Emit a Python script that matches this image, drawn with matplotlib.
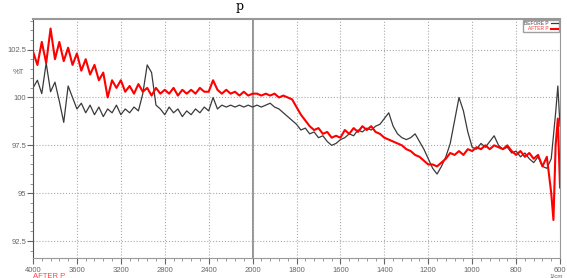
import numpy as np
import matplotlib
matplotlib.use('Agg')
import matplotlib.pyplot as plt
from matplotlib.ticker import FixedLocator, FuncFormatter

# wavenumber grid (1/cm), read points
wavenumber = [4000, 3960, 3920, 3880, 3840, 3800, 3760, 3720, 3680, 3640,
              3600, 3560, 3520, 3480, 3440, 3400, 3360, 3320, 3280, 3240,
              3200, 3160, 3120, 3080, 3040, 3000, 2960, 2920, 2880, 2840,
              2800, 2760, 2720, 2680, 2640, 2600, 2560, 2520, 2480, 2440,
              2400, 2360, 2320, 2280, 2240, 2200, 2160, 2120, 2080, 2040,
              2000, 1980, 1960, 1940, 1920, 1900, 1880, 1860, 1840, 1820,
              1800, 1780, 1760, 1740, 1720, 1700, 1680, 1660, 1640, 1620,
              1600, 1580, 1560, 1540, 1520, 1500, 1480, 1460, 1440, 1420,
              1400, 1380, 1360, 1340, 1320, 1300, 1280, 1260, 1240, 1220,
              1200, 1180, 1160, 1140, 1120, 1100, 1080, 1060, 1040, 1020,
              1000, 980, 960, 940, 920, 900, 880, 860, 840, 820,
              800, 780, 760, 740, 720, 700, 680, 660, 640, 630,
              620, 610, 600]

before_p = [100.5, 100.9, 100.2, 101.8, 100.3, 100.8, 99.8, 98.7, 100.6, 100.0,
            99.4, 99.7, 99.2, 99.6, 99.1, 99.5, 99.0, 99.4, 99.2, 99.6,
            99.1, 99.4, 99.2, 99.5, 99.3, 100.2, 101.7, 101.3, 99.6, 99.4,
            99.1, 99.5, 99.2, 99.4, 99.0, 99.3, 99.1, 99.4, 99.2, 99.5,
            99.3, 100.0, 99.4, 99.6, 99.5, 99.6, 99.5, 99.6, 99.5, 99.6,
            99.5, 99.6, 99.5, 99.6, 99.7, 99.5, 99.4, 99.2, 99.0, 98.8,
            98.6, 98.3, 98.4, 98.1, 98.2, 97.9, 98.0, 97.7, 97.5, 97.6,
            97.8, 97.9, 98.1, 98.0, 98.3, 98.2, 98.4, 98.3, 98.5, 98.6,
            98.9, 99.2, 98.5, 98.1, 97.9, 97.8, 97.9, 98.1, 97.7, 97.3,
            96.8, 96.3, 96.0, 96.4, 96.9, 97.6, 98.8, 100.0, 99.3, 98.2,
            97.4, 97.3, 97.6, 97.4, 97.7, 98.0, 97.5, 97.3, 97.4, 97.1,
            97.2, 96.9, 97.1, 96.8, 96.6, 96.9, 96.4, 96.3, 96.8, 98.0,
            99.2, 100.6, 98.5]

after_p = [102.4, 101.7, 102.9, 101.8, 103.6, 102.0, 102.9, 101.9, 102.6, 101.7,
           102.3, 101.4, 102.0, 101.2, 101.7, 100.9, 101.3, 100.0, 100.9, 100.5,
           100.9, 100.3, 100.6, 100.2, 100.7, 100.3, 100.5, 100.1, 100.5, 100.2,
           100.4, 100.2, 100.5, 100.1, 100.4, 100.2, 100.4, 100.2, 100.5, 100.3,
           100.3, 100.9, 100.4, 100.2, 100.4, 100.2, 100.3, 100.1, 100.3, 100.1,
           100.2, 100.2, 100.1, 100.2, 100.1, 100.2, 100.0, 100.1, 100.0, 99.9,
           99.5, 99.1, 98.8, 98.5, 98.3, 98.4, 98.1, 98.2, 97.9, 98.0,
           97.9, 98.3, 98.1, 98.4, 98.2, 98.5, 98.3, 98.5, 98.2, 98.1,
           97.9, 97.8, 97.7, 97.6, 97.5, 97.3, 97.2, 97.0, 96.9, 96.7,
           96.5, 96.5, 96.4, 96.6, 96.8, 97.1, 97.0, 97.2, 97.0, 97.3,
           97.2, 97.4, 97.3, 97.5, 97.3, 97.5, 97.4, 97.3, 97.5, 97.2,
           97.0, 97.2, 96.9, 97.1, 96.8, 97.0, 96.4, 96.9, 95.0, 93.6,
           97.5, 98.9, 95.3]

major_x = [4000, 3600, 3200, 2800, 2400, 2000, 1800, 1600, 1400, 1200, 1000, 800, 600]
major_y = [92.5, 95, 97.5, 100, 102.5]


# FTIR style axis: region below 2000 1/cm is expanded 2x
def fwd(x):
    x = np.asarray(x, dtype=float)
    return np.where(x >= 2000, x, 2 * x - 2000)


def inv(u):
    u = np.asarray(u, dtype=float)
    return np.where(u >= 2000, u, (u + 2000) / 2)


plt.rcParams['font.family'] = ['Liberation Sans Narrow', 'Liberation Sans', 'DejaVu Sans']

fig = plt.figure(figsize=(5.67, 2.78), dpi=100)
ax = fig.add_axes([0.0582, 0.0709, 0.9295, 0.8608])
ax.set_xscale('function', functions=(fwd, inv))

ax.plot(wavenumber, before_p, color='#3a3a3a', lw=0.9, label='BEFORE P')
ax.plot(wavenumber, after_p, color='#ff0000', lw=1.5, label='AFTER P')

ax.set_xlim(4000, 600)
ax.set_ylim(91.6, 104.1)

minor_x = list(range(4000, 2000, -80)) + list(range(2000, 560, -40))
ax.xaxis.set_major_locator(FixedLocator(major_x))
ax.xaxis.set_minor_locator(FixedLocator(minor_x))
ax.xaxis.set_major_formatter(FuncFormatter(lambda v, p: '%d' % round(v)))
ax.yaxis.set_major_locator(FixedLocator(major_y))
ax.yaxis.set_minor_locator(FixedLocator(list(np.arange(92.0, 104.1, 0.5))))
ax.yaxis.set_major_formatter(FuncFormatter(lambda v, p: ('%g' % v)))

ax.tick_params(axis='both', which='major', labelsize=5.5, colors='#666666', length=4, width=0.8)
ax.tick_params(axis='both', which='minor', length=2, width=0.6, colors='#888888')
ax.tick_params(axis='x', pad=2)
ax.tick_params(axis='y', pad=1)

ax.grid(True, which='major', linestyle=':', color='#aaaaaa', lw=0.8)
ax.axvline(2000, color='#777777', lw=1.1, zorder=1)

for side in ['top', 'right', 'left', 'bottom']:
    ax.spines[side].set_color('#999999')
ax.spines['top'].set_linewidth(1.5)
ax.spines['left'].set_color('#555555')

lgd = ax.legend(loc='upper right', fontsize=3.5, markerfirst=False, handlelength=1.5,
                borderpad=0.2, labelspacing=0.1, handletextpad=0.4,
                borderaxespad=0.2, fancybox=False, edgecolor='#888888')
lgd.get_texts()[0].set_color('#444444')
lgd.get_texts()[1].set_color('#ff3333')

fig.text(13 / 567, 1 - 73 / 278, '%T', fontsize=5.5, color='#666666', va='center')
fig.text(33 / 567, 1 - 276 / 278, 'AFTER P', fontsize=5.5, color='#ff4444', va='center')
fig.text(549 / 567, 1 - 276 / 278, '1/cm', fontsize=4.5, color='#666666', va='center')
fig.text(236 / 567, 1.0, 'p', fontsize=9, family='DejaVu Serif', va='top')

fig.savefig('out.png', dpi=100)
